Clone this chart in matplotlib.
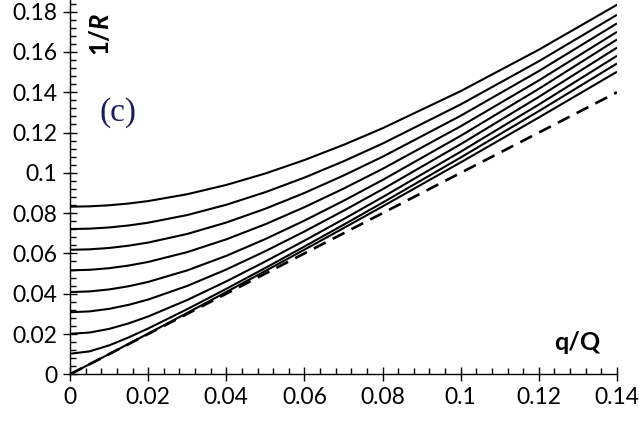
import matplotlib
matplotlib.use("Agg")
import matplotlib.pyplot as plt

# q/Q sample positions shared by all solid curves
q = [0, 0.005, 0.01, 0.015, 0.02, 0.03, 0.04, 0.05, 0.06, 0.07, 0.08, 0.10, 0.12, 0.14]

# 1/R for each solid curve (bottom to top)
r0 = [0, 0.00501, 0.01005, 0.01512, 0.02021, 0.03047, 0.04083, 0.0513, 0.06187, 0.07255, 0.08333, 0.1052, 0.12749, 0.15019]
r1 = [0.0102, 0.01138, 0.01435, 0.0183, 0.02273, 0.03233, 0.04242, 0.05281, 0.06342, 0.07422, 0.08519, 0.10762, 0.13065, 0.15429]
r2 = [0.0201, 0.02073, 0.02254, 0.02527, 0.0287, 0.03688, 0.04613, 0.05601, 0.06634, 0.07699, 0.08793, 0.1105, 0.13391, 0.1581]
r3 = [0.0308, 0.03123, 0.03248, 0.03448, 0.03711, 0.04386, 0.05202, 0.06113, 0.0709, 0.08118, 0.09187, 0.11424, 0.13771, 0.16217]
r4 = [0.0408, 0.04114, 0.04212, 0.04371, 0.04586, 0.05158, 0.0588, 0.06714, 0.0763, 0.08612, 0.09646, 0.1184, 0.14172, 0.16621]
r5 = [0.0516, 0.05187, 0.05267, 0.05398, 0.05577, 0.06065, 0.06699, 0.0745, 0.08296, 0.09216, 0.10198, 0.12313, 0.14589, 0.16999]
r6 = [0.0618, 0.06203, 0.06271, 0.06384, 0.06539, 0.06967, 0.07534, 0.08219, 0.09002, 0.09867, 0.108, 0.12835, 0.15053, 0.1742]
r7 = [0.0721, 0.0723, 0.07289, 0.07388, 0.07525, 0.07905, 0.08416, 0.09041, 0.09765, 0.10573, 0.11454, 0.13398, 0.1554, 0.17844]
r8 = [0.0832, 0.08338, 0.0839, 0.08478, 0.08599, 0.08939, 0.094, 0.09969, 0.10636, 0.11388, 0.12214, 0.14058, 0.16114, 0.18344]

# dashed reference line 1/R = q/Q
q_dash = [0, 0.14]
r_dash = [0, 0.14]

x_ticks = [0, 0.02, 0.04, 0.06, 0.08, 0.1, 0.12, 0.14]
x_labels = ["0", "0.02", "0.04", "0.06", "0.08", "0.1", "0.12", "0.14"]
y_ticks = [0, 0.02, 0.04, 0.06, 0.08, 0.1, 0.12, 0.14, 0.16, 0.18]
y_labels = ["0", "0.02", "0.04", "0.06", "0.08", "0.1", "0.12", "0.14", "0.16", "0.18"]

plt.rcParams["font.family"] = ["Lato", "DejaVu Sans"]
plt.rcParams["mathtext.fontset"] = "custom"
plt.rcParams["mathtext.bf"] = "Lato:bold"
plt.rcParams["mathtext.it"] = "Lato:bold:italic"
plt.rcParams["mathtext.rm"] = "Lato:bold"

fig = plt.figure(figsize=(6.39, 4.21), dpi=100)
ax = fig.add_axes([70 / 639, 46.7 / 421, 547 / 639, 374.3 / 421])

for r in [r0, r1, r2, r3, r4, r5, r6, r7, r8]:
    ax.plot(q, r, color="black", linewidth=1.5, solid_capstyle="butt")

ax.plot(q_dash, r_dash, color="black", linewidth=1.9, dashes=(5, 3))

ax.set_xlim(0, 0.14)
ax.set_ylim(0, 0.1858)

ax.spines["top"].set_visible(False)
ax.spines["right"].set_visible(False)
for s in ["left", "bottom"]:
    ax.spines[s].set_linewidth(1.0)

ax.set_xticks(x_ticks)
ax.set_xticklabels(x_labels)
ax.set_yticks(y_ticks)
ax.set_yticklabels(y_labels)
ax.set_xticks([i * 0.004 for i in range(36)], minor=True)
ax.set_yticks([i * 0.004 for i in range(47)], minor=True)

ax.tick_params(which="major", direction="inout", length=10, width=1.0,
               labelsize=16.5, pad=4)
ax.tick_params(which="minor", direction="in", length=4.3, width=1.0)

ax.text(0.0585, 0.909, r"$\mathbf{1/}\mathit{R}$", rotation=90,
        fontsize=18.5, ha="center", va="center", transform=ax.transAxes)
ax.text(0.927, 0.085, "q/Q", fontsize=18, fontweight="bold",
        ha="center", va="center", transform=ax.transAxes)
ax.text(0.0878, 0.6995, "(c)", fontsize=24, family="Liberation Serif",
        color="#1c1c5c", ha="center", va="center", transform=ax.transAxes)

fig.savefig("out.png", dpi=100)
